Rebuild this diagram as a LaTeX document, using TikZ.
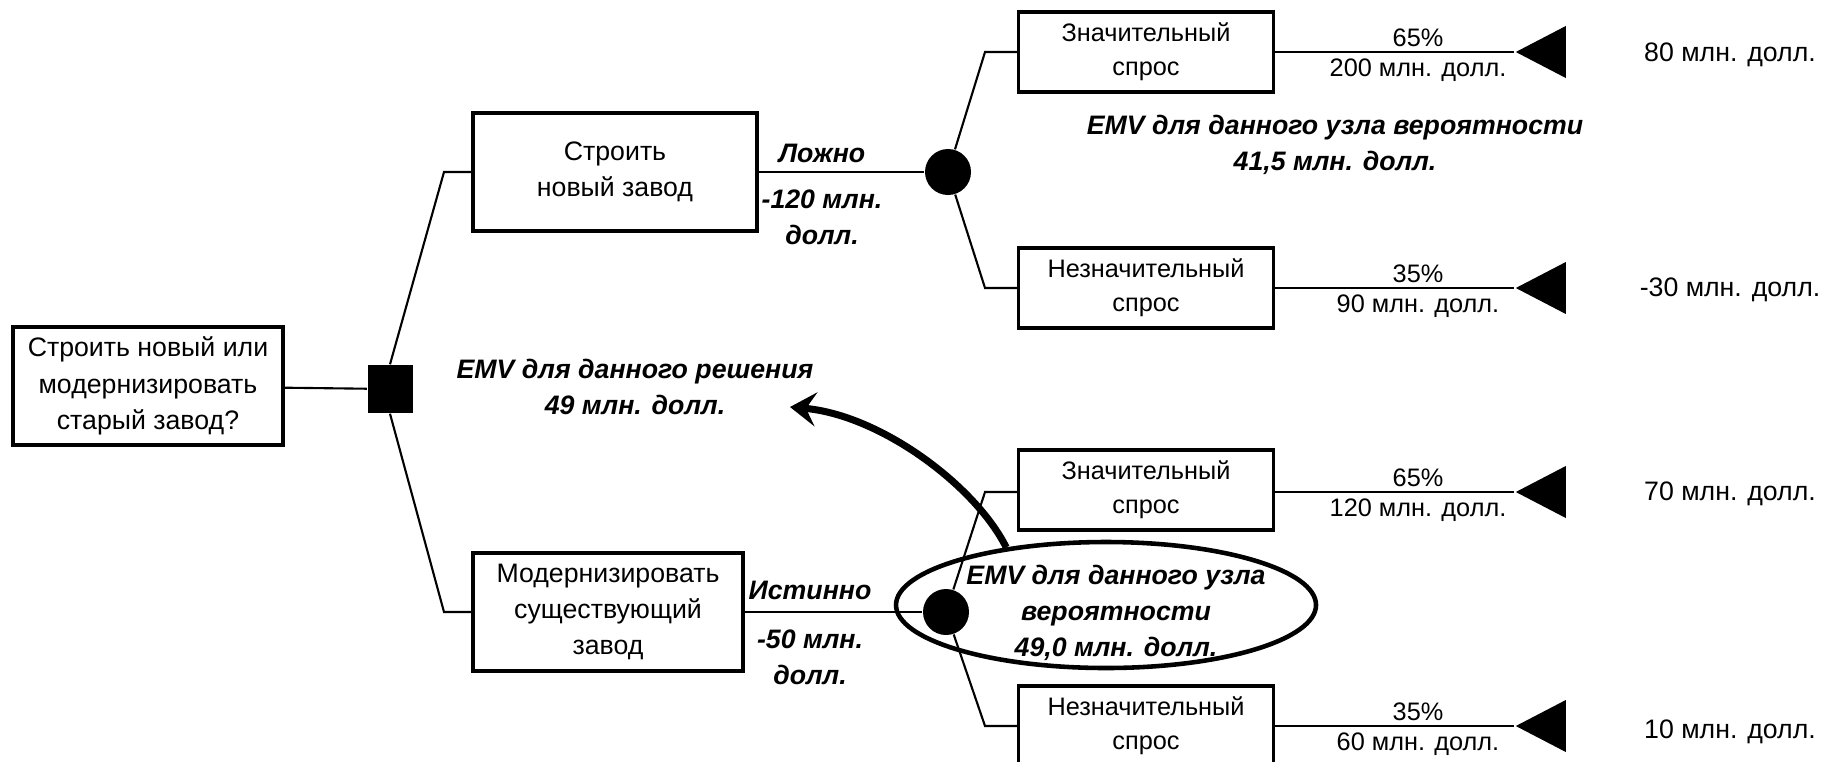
\documentclass[tikz,border=0pt]{standalone}
\usepackage{fontspec}
\setmainfont{Liberation Sans}
\usetikzlibrary{shapes.geometric,arrows.meta}

\begin{document}
\begin{tikzpicture}[x=0.1mm, y=-0.1mm, font=\fontsize{7.6}{10.3}\selectfont]
    \tikzstyle{decbox}=[rectangle, draw, line width=0.9pt, align=center, minimum width=28mm, minimum height=11.8mm, inner sep=1pt]
    \tikzstyle{statebox}=[decbox, minimum width=25.5mm, minimum height=8mm, font=\fontsize{7.2}{9.6}\selectfont]
    \tikzstyle{decnode}=[rectangle, fill, minimum width=4.5mm, minimum height=4.8mm, inner sep=0pt]
    \tikzstyle{chancenode}=[circle, fill, minimum size=4.6mm, inner sep=0pt]
    \tikzstyle{endnode}=[isosceles triangle, fill, shape border rotate=180, isosceles triangle stretches, minimum height=5mm, minimum width=5.2mm, inner sep=0pt]
    \tikzstyle{emvtext}=[align=center, font=\fontsize{7.6}{10.3}\selectfont\bfseries\itshape]
    \tikzstyle{prob}=[font=\fontsize{7.2}{9.6}\selectfont]
    \tikzstyle{link}=[-, semithick]

    \useasboundingbox (0,0) rectangle (1841,761);

    % Узлы
    \node[decbox, minimum width=27mm] (q) at (148,386) {Строить новый или\\ модернизировать\\ старый завод?};
    \node[decnode] (d) at (390,389) {};
    \node[decbox, minimum width=28.4mm] (new) at (615,172) {Строить\\ новый завод};
    \node[decbox, minimum width=27mm] (mod) at (608,612) {Модернизировать\\ существующий\\ завод};
    \node[chancenode] (c1) at (948,172) {};
    \node[chancenode] (c2) at (946,612) {};

    \node[statebox] (hi1) at (1146,52) {Значительный\\ спрос};
    \node[statebox] (lo1) at (1146,288) {Незначительный\\ спрос};
    \node[statebox] (hi2) at (1146,490) {Значительный\\ спрос};
    \node[statebox] (lo2) at (1146,726) {Незначительный\\ спрос};

    \node[endnode] (t1) at (1550,52) {};
    \node[endnode] (t2) at (1550,288) {};
    \node[endnode] (t3) at (1550,492) {};
    \node[endnode] (t4) at (1550,726) {};

    % Изломы линий
    \coordinate (dn) at (444,172);
    \coordinate (ds) at (444,612);
    \coordinate (c1n) at (985,52);
    \coordinate (c1s) at (985,288);
    \coordinate (c2n) at (985,492);
    \coordinate (c2s) at (985,726);

    % Линии
    \draw[link] (q) -- (d);
    \draw[link] (d.north) -- (dn) -- (new);
    \draw[link] (d.south) -- (ds) -- (mod);
    \draw[link] (new) -- (c1);
    \draw[link] (mod) -- (c2);
    \draw[link] (c1) -- (c1n) -- (hi1);
    \draw[link] (c1) -- (c1s) -- (lo1);
    \draw[link] (c2) -- (c2n) -- (hi2.west |- c2n);
    \draw[link] (c2) -- (c2s) -- (lo2);
    \draw[link] (hi1) -- (t1);
    \draw[link] (lo1) -- (t2);
    \draw[link] (hi2.east |- t3) -- (t3);
    \draw[link] (lo2) -- (t4);

    % Подписи
    \node[emvtext] (fa) at (822,153) {Ложно};
    \node[emvtext] (fav) at (822,217) {-120 млн.\\ долл.};
    \node[emvtext] (tr) at (810,590) {Истинно};
    \node[emvtext] (trv) at (810,657) {-50 млн.\\ долл.};

    \node[prob] (p1) at (1418,38) {65\%};
    \node[prob] (v1) at (1418,70) {200 млн. долл.};
    \node[prob] (p2) at (1418,274) {35\%};
    \node[prob] (v2) at (1418,306) {90 млн. долл.};
    \node[prob] (p3) at (1418,478) {65\%};
    \node[prob] (v3) at (1418,510) {120 млн. долл.};
    \node[prob] (p4) at (1418,712) {35\%};
    \node[prob] (v4) at (1418,744) {60 млн. долл.};

    \node (r1) at (1730,55) {80 млн. долл.};
    \node (r2) at (1730,290) {-30 млн. долл.};
    \node (r3) at (1730,494) {70 млн. долл.};
    \node (r4) at (1730,732) {10 млн. долл.};

    \node[emvtext] (emv1) at (1335,145) {EMV для данного узла вероятности\\ 41,5 млн. долл.};
    \node[emvtext] (emv0) at (635,387) {EMV для данного решения\\ 49 млн. долл.};

    \node[ellipse, draw, line width=1.3pt, minimum width=42mm, minimum height=12.6mm] (oval) at (1106,605) {};
    \node[emvtext] (emv2) at (1116,613) {EMV для данного узла\\ вероятности\\ 49,0 млн. долл.};

    \coordinate (aend) at (790,407);
    \draw[line width=2pt, -{Stealth[length=2.6mm, width=3.4mm, inset=1mm]}] (oval.150) .. controls (975,485) and (880,415) .. (aend);
\end{tikzpicture}
\end{document}
